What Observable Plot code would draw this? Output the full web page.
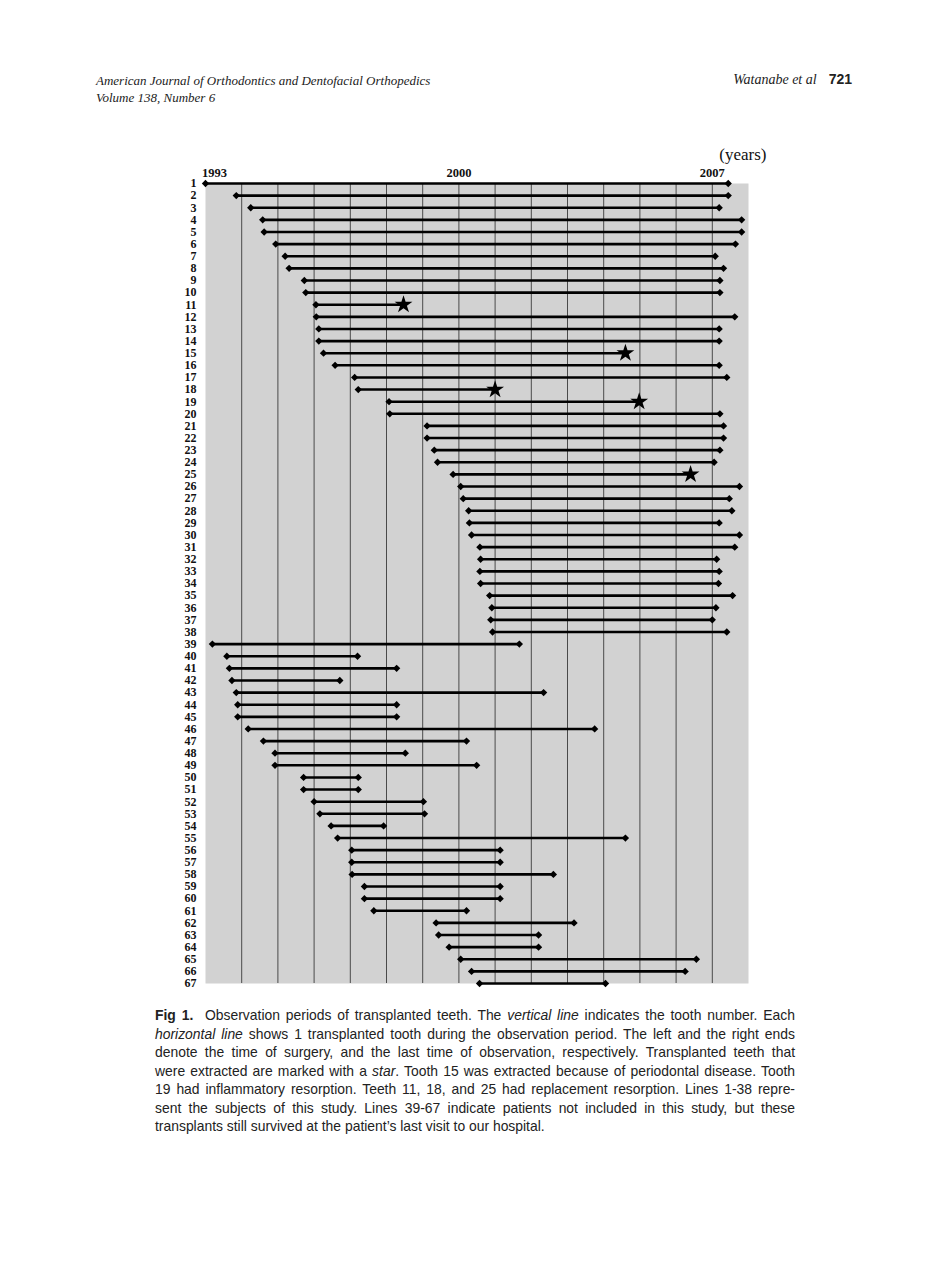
<!DOCTYPE html>
<html><head><meta charset="utf-8">
<script src="https://cdn.jsdelivr.net/npm/d3@7"></script>
<script src="https://cdn.jsdelivr.net/npm/@observablehq/plot@0.6"></script>
<style>
body{margin:0;background:#fff;width:950px;height:1272px;position:relative;overflow:hidden;}
.hdr{position:absolute;font-family:"Liberation Serif",serif;font-style:italic;font-size:13px;line-height:17px;color:#222;}
.pg{position:absolute;right:98px;top:71px;font-family:"Liberation Serif",serif;font-size:14px;color:#222;}
.pg b{font-family:"Liberation Sans",Arial,sans-serif;font-style:normal;font-size:14px;margin-left:12px;}
#chart{position:absolute;left:0;top:130px;}
.cap{position:absolute;left:155px;top:1006px;width:640px;font-family:"Liberation Sans",Arial,sans-serif;font-size:13.9px;line-height:18.5px;color:#222;}
.cap div{text-align:justify;text-align-last:justify;white-space:nowrap;}
.cap div.last{text-align-last:left;}
</style></head>
<body>
<div class="hdr" style="left:96px;top:72px;">American Journal of Orthodontics and Dentofacial Orthopedics<br>Volume 138, Number 6</div>
<div class="pg"><i>Watanabe et al</i><b>721</b></div>
<div id="chart"></div>
<div class="cap">
<div><b>Fig 1.</b>&nbsp; Observation periods of transplanted teeth. The <i>vertical line</i> indicates the tooth number. Each</div>
<div><i>horizontal line</i> shows 1 transplanted tooth during the observation period. The left and the right ends</div>
<div>denote the time of surgery, and the last time of observation, respectively. Transplanted teeth that</div>
<div>were extracted are marked with a <i>star</i>. Tooth 15 was extracted because of periodontal disease. Tooth</div>
<div>19 had inflammatory resorption. Teeth 11, 18, and 25 had replacement resorption. Lines 1-38 repre-</div>
<div>sent the subjects of this study. Lines 39-67 indicate patients not included in this study, but these</div>
<div class="last">transplants still survived at the patient’s last visit to our hospital.</div>
</div>
<script>
const teeth = [1,2,3,4,5,6,7,8,9,10,11,12,13,14,15,16,17,18,19,20,21,22,23,24,25,26,27,28,29,30,31,32,33,34,
  35,36,37,38,39,40,41,42,43,44,45,46,47,48,49,50,51,52,53,54,55,56,57,58,59,60,61,62,63,64,65,66,67];
const surgery = [1993.00,1993.85,1994.25,1994.58,1994.62,1994.94,1995.20,1995.31,1995.73,1995.77,
  1996.05,1996.06,1996.13,1996.13,1996.26,1996.58,1997.12,1997.22,1998.07,1998.09,
  1999.12,1999.12,1999.32,1999.41,1999.84,2000.05,2000.12,2000.27,2000.29,2000.35,
  2000.58,2000.60,2000.58,2000.60,2000.85,2000.91,2000.88,2000.93,
  1993.19,1993.59,1993.66,1993.73,1993.85,1993.89,1993.89,1994.18,1994.60,1994.92,1994.92,
  1995.71,1995.71,1996.00,1996.16,1996.47,1996.65,1997.04,1997.04,1997.05,1997.39,1997.39,
  1997.65,1999.37,1999.44,1999.73,2000.05,2000.35,2000.57];
const lastVisit = [2007.44,2007.44,2007.19,2007.81,2007.81,2007.64,2007.08,2007.31,2007.21,2007.21,
  1998.47,2007.62,2007.19,2007.19,2004.60,2007.19,2007.40,2001.00,2004.98,2007.21,
  2007.31,2007.31,2007.21,2007.05,2006.40,2007.75,2007.47,2007.54,2007.19,2007.75,
  2007.62,2007.12,2007.19,2007.17,2007.56,2007.10,2007.00,2007.40,
  2001.67,1997.20,1998.28,1996.71,2002.34,1998.28,1998.28,2003.75,2000.21,1998.52,2000.49,
  1997.22,1997.22,1999.02,1999.05,1997.92,2004.60,2001.14,2001.14,2002.61,2001.14,2001.14,
  2000.21,2003.18,2002.20,2002.20,2006.56,2006.25,2004.05];
const extracted = [11,15,18,19,25];
const yearLabels = [1993,2000,2007];
const gridYears = [1994,1995,1996,1997,1998,1999,2000,2001,2002,2003,2004,2005,2006,2007];

const data = teeth.map((t,i)=>({tooth:t, start:surgery[i], end:lastVisit[i], star:extracted.includes(t)}));

const plot = Plot.plot({
  width: 950, height: 862,
  marginLeft: 205, marginRight: 202, marginTop: 53, marginBottom: 9,
  x: {domain:[1993,2008]},
  y: {domain:[67,1]},
  style: {fontFamily:"'Liberation Serif', serif", fontWeight:"bold", fontSize:"12px", color:"#111", background:"transparent", overflow:"visible"},
  marks: [
    Plot.frame({fill:"#d2d2d2", stroke:null}),
    Plot.ruleX(gridYears, {stroke:"#4a4a4a", strokeWidth:1}),
    Plot.ruleY(data, {y:"tooth", x1:"start", x2:"end", stroke:"#000", strokeWidth:2.6}),
    Plot.dot(data, {x:"start", y:"tooth", symbol:"diamond2", r:3.3, fill:"#000", stroke:null}),
    Plot.dot(data.filter(d=>!d.star), {x:"end", y:"tooth", symbol:"diamond2", r:3.3, fill:"#000", stroke:null}),
    Plot.dot(data.filter(d=>d.star), {x:"end", y:"tooth", symbol:"star", r:5.6, fill:"#000", stroke:null}),
    Plot.axisX({anchor:"top", ticks:yearLabels.slice(0,1), tickSize:0, tickPadding:7, dx:9, label:null, tickFormat:d=>String(d), fontSize:12.5}),
    Plot.axisX({anchor:"top", ticks:yearLabels.slice(1), tickSize:0, tickPadding:7, label:null, tickFormat:d=>String(d), fontSize:12.5}),
    Plot.axisY({anchor:"left", ticks:teeth, tickSize:0, tickPadding:9, label:null, tickFormat:d=>String(d), fontSize:12}),
    Plot.text(["(years)"], {frameAnchor:"top-right", dx:18, dy:-24, textAnchor:"end", lineAnchor:"bottom", fontWeight:"normal", fontSize:17})
  ]
});
document.getElementById("chart").appendChild(plot);
</script>
</body></html>
